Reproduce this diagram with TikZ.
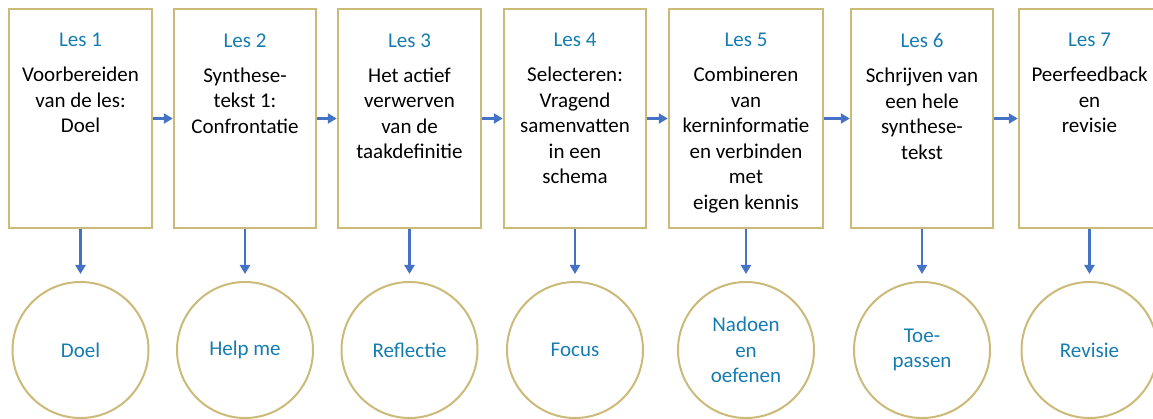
\documentclass[tikz,border=0pt]{standalone}
\usepackage{fontspec}
\setmainfont{Carlito}
\usetikzlibrary{positioning,arrows.meta}
\definecolor{goud}{RGB}{203,186,120}
\definecolor{lesblauw}{RGB}{22,124,176}
\definecolor{pijlblauw}{RGB}{68,114,196}
\begin{document}
\begin{tikzpicture}[x=1pt,y=-1pt,
    les/.style={draw=goud,line width=2.5pt,minimum height=219pt,inner sep=0pt},
    tekst/.style={anchor=north,inner sep=0pt,align=center,text=black,font=\fontsize{21}{25.5}\selectfont},
    kring/.style={circle,draw=goud,line width=2pt,minimum size=136pt,inner sep=0pt,
        align=center,text=lesblauw,font=\fontsize{21}{25.5}\selectfont},
    pijl/.style={draw=pijlblauw,line width=2.2pt,-{Triangle[length=9pt,width=10pt]}}]
    \clip (0,0) rectangle (1153,419);
    % de lessen
    \foreach \x/\w/\n/\t in {80.5/143/1/{Voorbereiden\\van de les:\\Doel},
        245/142/2/{Synthese-\\tekst 1:\\Confrontatie},
        409.5/143/3/{Het actief\\verwerven\\van de\\taakdefinitie},
        575/142/4/{Selecteren:\\Vragend\\samenvatten\\in een\\schema},
        746/154/5/{Combineren\\van\\kerninformatie\\en verbinden\\met\\eigen kennis},
        922/142/6/{Schrijven van\\een hele\\synthese-\\tekst},
        1089.5/141/7/{Peerfeedback\\en\\revisie}}{
        \node[les,minimum width=\w pt] (b\n) at (\x,118.5) {};
        \node[tekst] (t\n) at ([yshift=-25.5pt]b\n.north) {\textcolor{lesblauw}{Les \n}\\[9.5pt]\t};
    }
    % de cirkels
    \foreach \x/\n/\t in {80.5/1/Doel,245/2/Help me,409.5/3/Reflectie,575/4/Focus,
        746/5/{Nadoen\\en\\oefenen},922/6/{Toe-\\passen},1089.5/7/Revisie}{
        \node[kring] (k\n) at (\x,350) {\t};
        \draw[pijl] (b\n.south) -- ([yshift=7pt]k\n.north);
    }
    % pijlen tussen de lessen
    \foreach \a/\b in {1/2,2/3,3/4,4/5,5/6,6/7}
        \draw[pijl] (b\a.east) -- (b\b.west);
\end{tikzpicture}
\end{document}
